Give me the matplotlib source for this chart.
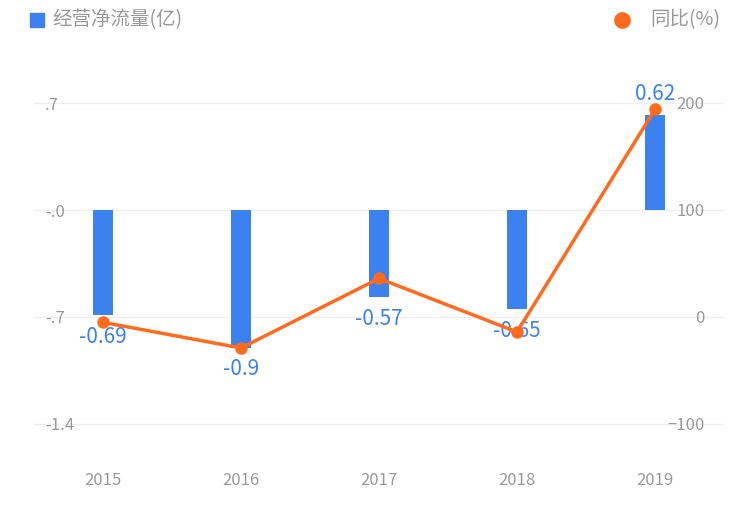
import matplotlib
matplotlib.use("Agg")
import matplotlib.pyplot as plt
import numpy as np

plt.rcParams['font.family'] = ['Noto Sans CJK SC', 'DejaVu Sans']

years = ['2015', '2016', '2017', '2018', '2019']
flow = [-0.69, -0.9, -0.57, -0.65, 0.62]
yoy = [-5, -29, 36, -14, 194]
left_ticks = [0.7, 0.0, -0.7, -1.4]
left_labels = ['.7', '-.0', '-.7', '-1.4']
right_ticks = [200, 100, 0, -100]

blue = '#3b82f0'
orange = '#ff6a1c'
grey = '#999999'

W, H = 750, 511
fig = plt.figure(figsize=(W / 100, H / 100), dpi=100)
ax = fig.add_axes([34 / W, 1 - 455 / H, 690 / W, 405 / H])
ax2 = ax.twinx()

x = np.arange(len(years))
ax.bar(x, flow, width=0.15, color=blue, zorder=2)
ax.set_xlim(-0.5, 4.5)
ax.set_ylim(-1.603, 1.047)
for t in left_ticks:
    ax.axhline(t, color='#eeeeee', lw=1, zorder=0)
ax.set_yticks(left_ticks)
ax.set_yticklabels(left_labels)
ax.tick_params(axis='y', direction='in', length=0, pad=-8, labelsize=12, colors=grey)
for lbl in ax.get_yticklabels():
    lbl.set_horizontalalignment('left')
ax.set_xticks(x)
ax.set_xticklabels(years)
ax.tick_params(axis='x', length=0, labelsize=12, colors=grey, pad=12)
for s in ax.spines.values():
    s.set_visible(False)
for s in ax2.spines.values():
    s.set_visible(False)

for xi, v in zip(x, flow):
    off = 0.07 if v > 0 else -0.07
    ax.text(xi, v + off, f'{v:g}', ha='center', va='bottom' if v > 0 else 'top',
            color=blue, fontsize=15, zorder=5)

ax2.plot(x, yoy, color=orange, lw=2.5, marker='o', ms=8, zorder=3)
ax2.set_ylim(-129, 249.5)
ax2.set_yticks(right_ticks)
ax2.tick_params(axis='y', length=0, pad=-14, labelsize=12, colors=grey)
for lbl in ax2.get_yticklabels():
    lbl.set_horizontalalignment('right')

fig.patches.append(plt.Rectangle((30 / W, 1 - 27 / H), 14 / W, 14 / H,
                                 transform=fig.transFigure, color=blue))
fig.text(52 / W, 1 - 20 / H, '经营净流量(亿)', fontsize=14, color=grey, va='center')
fig.text(720 / W, 1 - 20 / H, '同比(%)', fontsize=14, color=grey, va='center', ha='right')
fig.lines.append(plt.Line2D([622 / W], [1 - 20 / H], marker='o', ms=11, color=orange,
                            transform=fig.transFigure))

fig.savefig('out.png', dpi=100)
